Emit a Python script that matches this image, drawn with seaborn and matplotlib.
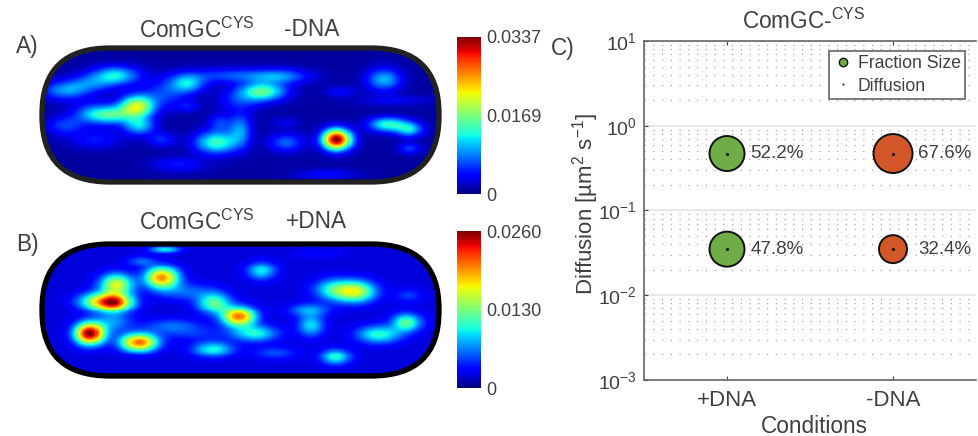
import numpy as np
import pandas as pd
import matplotlib.pyplot as plt
import seaborn as sns
from matplotlib.lines import Line2D
from matplotlib.patches import FancyBboxPatch

# bright spots: x, y along the cell, height (0-1 of scale), width x, width y
a_x = [71, 22, 46, 92, 67, 49, 141, 186, 232, 214, 192, 332, 119, 94, 22, 52, 116, 169, 192, 172, 237, 286, 336, 357, 357, 132, 276, 289, 342, 236, 142]
a_y = [27, 42, 35, 58, 67, 65, 35, 27, 28, 43, 52, 31, 45, 78, 78, 92, 92, 95, 82, 75, 95, 92, 77, 82, 101, 117, 127, 43, 52, 75, 58]
a_h = [.36, .26, .2, .58, .36, .2, .32, .2, .22, .45, .15, .3, .18, .32, .18, .14, .16, .42, .26, .17, .22, 1.0, .4, .32, .18, .14, .12, .12, .1, .09, .12]
a_sx = [12, 12, 12, 9, 12, 12, 9, 25, 15, 12, 12, 9, 12, 8, 10, 14, 7, 11, 6, 6, 9, 7.5, 10, 7, 6, 14, 16, 8, 20, 8, 6]
a_sy = [5, 5, 5, 6, 5, 6, 5, 4, 4, 5, 6, 6, 8, 5, 5, 5, 4, 6, 9, 5, 5, 5.5, 4, 4, 3, 4, 3, 3, 3, 3, 3]

b_x = [46, 69, 49, 72, 116, 94, 96, 119, 213, 167, 191, 207, 166, 226, 285, 261, 259, 304, 281, 354, 327, 356, 69, 126, 139, 146, 269]
b_y = [91, 59, 58, 41, 34, 100, 17, 5, 27, 60, 74, 91, 107, 111, 115, 83, 67, 48, 46, 80, 92, 52, 79, 83, 48, 91, 9]
b_h = [1.0, .9, .36, .6, .76, .8, .22, .36, .36, .46, .78, .38, .38, .2, .4, .34, .28, .6, .34, .46, .4, .18, .26, .22, .22, .16, .12]
b_sx = [8, 10, 10, 9, 9, 10, 8, 8, 8, 9, 9, 12, 11, 12, 8, 7, 11, 11, 10, 8, 12, 8, 10, 16, 15, 20, 14]
b_sy = [6, 5, 5, 6, 6, 5, 3, 2, 5, 6, 5.5, 4.5, 4.5, 4, 4.5, 6, 4, 6, 6, 5, 5, 4, 6, 4, 5, 4, 3]

condiciones = ["+DNA", "-DNA", "+DNA", "-DNA"]
difusion = [0.47, 0.47, 0.035, 0.035]
fraccion = [52.2, 67.6, 47.8, 32.4]
diametro = [35, 39, 35, 28]
colores = {"+DNA": "#70AD47", "-DNA": "#D4572A"}

TXT = "#404040"
W, H = 979, 436

sns.set_style("white")
plt.rcParams["font.family"] = ["Liberation Sans", "DejaVu Sans"]
plt.rcParams["mathtext.default"] = "regular"
plt.rcParams["text.color"] = TXT
plt.rcParams["axes.labelcolor"] = TXT
plt.rcParams["xtick.color"] = TXT
plt.rcParams["ytick.color"] = TXT


def caja(x0, y0, x1, y1):
    return [x0 / W, 1 - y1 / H, (x1 - x0) / W, (y1 - y0) / H]


def texto(x, y, s, size=16.3, **kw):
    fig.text(x / W, 1 - y / H, s, fontsize=size, va="center", **kw)


def mapa(xs, ys, hs, sx, sy, fondo, abrir):
    gx, gy = np.meshgrid(np.arange(386), np.arange(135))
    z = np.full(gx.shape, fondo, dtype=float)
    for x, y, h, a, b in zip(xs, ys, hs, sx, sy):
        z += (h - fondo) * np.exp(-((gx - x) / (a * abrir)) ** 2 / 2 - ((gy - y) / (b * abrir)) ** 2 / 2)
    return z


def celda(z, vmax, eje, eje_cb, borde):
    sns.heatmap(z * vmax, ax=eje, cbar_ax=eje_cb, cmap="jet", vmin=0, vmax=vmax,
                xticklabels=False, yticklabels=False, cbar=True, rasterized=True)
    cap = FancyBboxPatch((0, 0), z.shape[1], z.shape[0], boxstyle="round,pad=0,rounding_size=66",
                         fc="none", ec=borde, lw=3.8, clip_on=False, mutation_aspect=1, zorder=5)
    eje.add_patch(cap)
    eje.collections[0].set_clip_path(cap)
    eje.axis("off")
    eje_cb.set_yticks([0, vmax / 2, vmax])
    eje_cb.set_yticklabels(["0", f"{vmax / 2:.4f}", f"{vmax:.4f}"], fontsize=13, color=TXT)
    eje_cb.tick_params(length=0, pad=4)
    for sp in eje_cb.spines.values():
        sp.set_visible(False)


fig = plt.figure(figsize=(9.79, 4.36), dpi=100)

ax_a = fig.add_axes(caja(42, 48, 439, 182))
cb_a = fig.add_axes(caja(457, 37, 481, 194))
celda(mapa(a_x, a_y, a_h, a_sx, a_sy, 0.03, 1.3), 0.0337, ax_a, cb_a, "#222222")

ax_b = fig.add_axes(caja(42, 244, 439, 376))
cb_b = fig.add_axes(caja(457, 231, 481, 388))
celda(mapa(b_x, b_y, b_h, b_sx, b_sy, 0.08, 1.25), 0.0260, ax_b, cb_b, "black")

# panel C
ax = fig.add_axes(caja(644, 41, 976, 380))
df = pd.DataFrame({"cond": condiciones, "dif": difusion})
ax.set_yscale("log")
sns.scatterplot(data=df, x="cond", y="dif", hue="cond", palette=colores, legend=False,
                s=[(d * 0.72) ** 2 for d in diametro], edgecolor="#111111", linewidth=1.4, ax=ax, zorder=3)
sns.scatterplot(data=df, x="cond", y="dif", color="#111111", s=5, linewidth=0, legend=False, ax=ax, zorder=4)
for i, (c, d, f) in enumerate(zip(condiciones, difusion, fraccion)):
    dx = 17 if i % 2 == 0 else 18
    ax.annotate(f"{f}%", (c, d), xytext=(dx, 0), textcoords="offset points",
                va="center", fontsize=13.5, color=TXT)
ax.set_xlim(-0.5, 1.5)
ax.set_ylim(1e-3, 1e1)
ax.set_yticks([1e-3, 1e-2, 1e-1, 1e0, 1e1])
ax.yaxis.set_minor_locator(plt.matplotlib.ticker.LogLocator(base=10, subs=range(2, 10), numticks=10))
ax.yaxis.set_minor_formatter(plt.NullFormatter())
ax.grid(True, which="major", axis="y", color="#e4e4e4", lw=1.2)
ax.grid(True, which="minor", axis="y", color="#a8a8a8", lw=0.9, ls=(0, (1, 6)))
ax.set_axisbelow(True)
ax.tick_params(axis="x", which="major", direction="in", length=3, labelsize=16, pad=7, top=True, bottom=True)
ax.tick_params(axis="y", which="major", direction="in", length=3, labelsize=14, pad=5, left=True)
ax.tick_params(axis="y", which="minor", left=False)
ax.set_xlabel("")
ax.set_ylabel("")
for sp in ax.spines.values():
    sp.set_color("#666666")
    sp.set_linewidth(1.2)
ax.spines["right"].set_visible(False)

marcas = [Line2D([], [], marker="o", ls="", mfc="#70AD47", mec="#111111", ms=6, mew=1),
          Line2D([], [], marker="o", ls="", mfc="#555555", mec="none", ms=1.8)]
ley = ax.legend(marcas, ["Fraction Size", "Diffusion"], loc="upper right", bbox_to_anchor=(0.967, 0.971),
                fontsize=12.7, frameon=True, fancybox=False, framealpha=1, edgecolor="#666666",
                borderpad=0.25, labelspacing=0.3, handlelength=1.1, handletextpad=0.3, borderaxespad=0)
ley.get_frame().set_linewidth(1.2)

texto(16, 47, "A)")
texto(16, 245, "B)")
texto(551, 48, "C)")
texto(139, 30, "ComGC$^{CYS}$")
texto(284, 30, "-DNA")
texto(139, 222, "ComGC$^{CYS}$")
texto(286, 222, "+DNA")
texto(742, 21, "ComGC-$^{CYS}$")
texto(814, 426, "Conditions", ha="center")
fig.text(586 / W, 1 - 204 / H, "Diffusion [µm$^2$ s$^{-1}$]", fontsize=16, rotation=90, va="center", ha="center")

fig.savefig("out.png", dpi=100)
plt.close()
